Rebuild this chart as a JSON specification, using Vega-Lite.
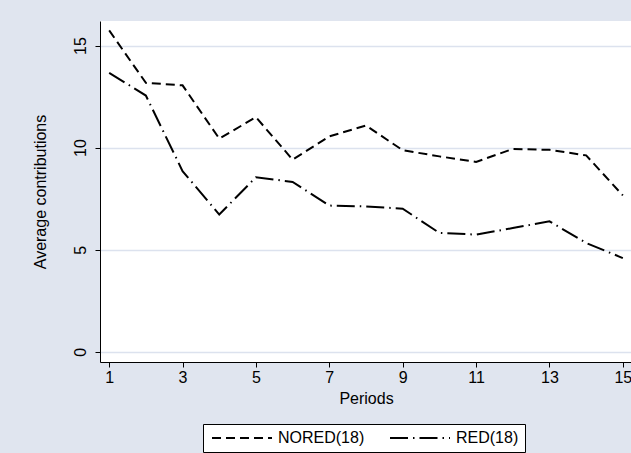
{
  "$schema": "https://vega.github.io/schema/vega-lite/v6.json",
  "width": 532,
  "height": 341,
  "autosize": {"type": "none"},
  "padding": {"left": 100, "top": 21, "right": 0, "bottom": 91},
  "background": "#E0E5EF",
  "config": {"font": "Liberation Sans", "view": {"fill": "white", "stroke": null}},
  "data": {"values": [
    {"period": 1, "group": "NORED(18)", "value": 15.74},
    {"period": 2, "group": "NORED(18)", "value": 13.17},
    {"period": 3, "group": "NORED(18)", "value": 13.05},
    {"period": 4, "group": "NORED(18)", "value": 10.44},
    {"period": 5, "group": "NORED(18)", "value": 11.49},
    {"period": 6, "group": "NORED(18)", "value": 9.41},
    {"period": 7, "group": "NORED(18)", "value": 10.55},
    {"period": 8, "group": "NORED(18)", "value": 11.08},
    {"period": 9, "group": "NORED(18)", "value": 9.87},
    {"period": 10, "group": "NORED(18)", "value": 9.57},
    {"period": 11, "group": "NORED(18)", "value": 9.30},
    {"period": 12, "group": "NORED(18)", "value": 9.93},
    {"period": 13, "group": "NORED(18)", "value": 9.89},
    {"period": 14, "group": "NORED(18)", "value": 9.62},
    {"period": 15, "group": "NORED(18)", "value": 7.66},
    {"period": 1, "group": "RED(18)", "value": 13.66},
    {"period": 2, "group": "RED(18)", "value": 12.55},
    {"period": 3, "group": "RED(18)", "value": 8.85},
    {"period": 4, "group": "RED(18)", "value": 6.72},
    {"period": 5, "group": "RED(18)", "value": 8.55},
    {"period": 6, "group": "RED(18)", "value": 8.32},
    {"period": 7, "group": "RED(18)", "value": 7.16},
    {"period": 8, "group": "RED(18)", "value": 7.12},
    {"period": 9, "group": "RED(18)", "value": 7.01},
    {"period": 10, "group": "RED(18)", "value": 5.82},
    {"period": 11, "group": "RED(18)", "value": 5.74},
    {"period": 12, "group": "RED(18)", "value": 6.06},
    {"period": 13, "group": "RED(18)", "value": 6.39},
    {"period": 14, "group": "RED(18)", "value": 5.33},
    {"period": 15, "group": "RED(18)", "value": 4.59}
  ]},
  "mark": {"type": "line", "strokeWidth": 2, "color": "black"},
  "encoding": {
    "x": {
      "field": "period", "type": "quantitative",
      "scale": {"domain": [0.75, 15.25], "nice": false, "zero": false},
      "axis": {"title": "Periods", "values": [1, 3, 5, 7, 9, 11, 13, 15], "grid": false,
        "domainColor": "black", "domainWidth": 1, "tickColor": "black", "tickSize": 5, "tickWidth": 1,
        "labelFontSize": 16, "labelColor": "black", "labelPadding": 2, "labelFlush": false, "labelOverlap": false,
        "titleFontSize": 16, "titleFontWeight": "normal", "titleColor": "black", "titlePadding": 5}
    },
    "y": {
      "field": "value", "type": "quantitative",
      "scale": {"domain": [-0.5, 16.2], "nice": false, "zero": false},
      "axis": {"title": "Average contributions", "values": [0, 5, 10, 15], "grid": true,
        "gridColor": "#DCE2EE", "gridWidth": 1.5,
        "domainColor": "black", "domainWidth": 1, "tickColor": "black", "tickSize": 5, "tickWidth": 1,
        "labelAngle": 270, "labelFontSize": 16, "labelColor": "black", "labelPadding": 7, "labelFlush": false,
        "titleFontSize": 16, "titleFontWeight": "normal", "titleColor": "black", "titlePadding": 24}
    },
    "strokeDash": {
      "field": "group", "type": "nominal",
      "scale": {"domain": ["NORED(18)", "RED(18)"], "range": [[9, 5], [18, 5, 1.5, 5]]},
      "legend": {"orient": "none", "legendX": 103, "legendY": 403, "direction": "horizontal", "title": null,
        "fillColor": "white", "strokeColor": "black", "padding": 6,
        "symbolType": "M-1,0H11", "symbolSize": 100, "symbolStrokeWidth": 2, "symbolStrokeColor": "black",
        "labelOffset": 53, "labelFontSize": 16, "labelColor": "black", "columnPadding": 21, "labelLimit": 200}
    }
  }
}
